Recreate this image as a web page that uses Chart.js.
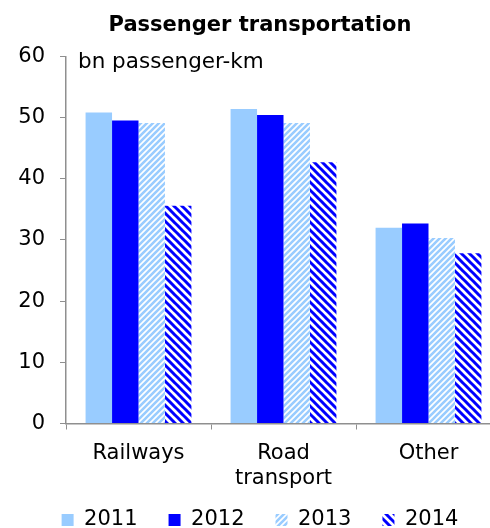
<!DOCTYPE html>
<html>
<head>
<meta charset="utf-8">
<script src="https://cdn.jsdelivr.net/npm/chart.js@4/dist/chart.umd.min.js"></script>
<style>
  html, body { margin: 0; padding: 0; overflow: hidden; background: #fff; }
  canvas { display: block; }
</style>
</head>
<body>
<canvas id="chart" width="501" height="528"></canvas>
<script>
const categories = ['Railways', ['Road', 'transport'], 'Other'];
const years = ['2011', '2012', '2013', '2014'];
const values2011 = [50.8, 51.4, 32.0];
const values2012 = [49.5, 50.4, 32.7];
const values2013 = [49.1, 49.1, 30.3];
const values2014 = [35.6, 42.7, 27.8];
const yTicks = [0, 10, 20, 30, 40, 50, 60];

const FONT = '"DejaVu Sans", Verdana, sans-serif';
const AXIS_GREY = '#8f8f8f';

// diagonal hatch fill; rising = '/' direction
function stripes(color, size, width, rising) {
    const c = document.createElement('canvas');
    c.width = c.height = size;
    const g = c.getContext('2d');
    g.fillStyle = '#ffffff';
    g.fillRect(0, 0, size, size);
    g.strokeStyle = color;
    g.lineWidth = width;
    g.beginPath();
    for (let k = -1; k <= 1; k++) {
        if (rising) {
            g.moveTo(k * size - 1, size + 1);
            g.lineTo(k * size + size + 1, -1);
        } else {
            g.moveTo(k * size - 1, -1);
            g.lineTo(k * size + size + 1, size + 1);
        }
    }
    g.stroke();
    return g.createPattern(c, 'repeat');
}

const fills = [
    '#99ccff',
    '#0000ff',
    stripes('#99ccff', 6, 2.6, true),
    stripes('#0000ff', 8, 3, false)
];

const series = [values2011, values2012, values2013, values2014];

// unit note in the top-left corner of the plot
const unitLabel = {
    id: 'unitLabel',
    afterDraw(chart) {
        const ctx = chart.ctx;
        ctx.save();
        ctx.font = '21.5px ' + FONT;
        ctx.fillStyle = '#000';
        ctx.textAlign = 'left';
        ctx.textBaseline = 'alphabetic';
        ctx.fillText('bn passenger-km', 78, 68);
        ctx.restore();
    }
};

// wide item spacing, but keep the legend a thin strip at the bottom
// (the x axis needs the room for the two-line label)
const legendHeight = {
    id: 'legendHeight',
    afterInit(chart) {
        const legend = chart.legend;
        const fit = legend.fit;
        legend.fit = function () {
            fit.call(this);
            this.height = 34.5;
        };
    },
    afterLayout(chart) {
        chart.legend.top -= 15;
    }
};

new Chart(document.getElementById('chart'), {
    type: 'bar',
    data: {
        labels: categories,
        datasets: series.map((data, i) => ({
            label: years[i],
            data: data,
            backgroundColor: fills[i],
            borderWidth: 0,
            categoryPercentage: 0.73,
            barPercentage: 1.0
        }))
    },
    options: {
        responsive: false,
        animation: false,
        layout: { padding: { left: 19, right: 0, top: 0, bottom: 0 } },
        plugins: {
            title: {
                display: true,
                text: 'Passenger transportation',
                color: '#000',
                font: { family: FONT, size: 21, weight: 'bold', lineHeight: 1.2 },
                padding: { top: 12.8, bottom: 18.3 }
            },
            legend: {
                position: 'bottom',
                labels: {
                    color: '#000',
                    font: { family: FONT, size: 21 },
                    boxWidth: 12,
                    boxHeight: 12,
                    padding: 31
                }
            },
            tooltip: { enabled: false }
        },
        scales: {
            x: {
                grid: {
                    display: true,
                    offset: true,
                    drawOnChartArea: false,
                    drawTicks: true,
                    tickLength: 6,
                    color: AXIS_GREY
                },
                border: { display: true, color: AXIS_GREY, width: 1.5 },
                ticks: {
                    color: '#000',
                    font: { family: FONT, size: 21, lineHeight: 1.2 },
                    padding: 11,
                    maxRotation: 0,
                    autoSkip: false
                },
                afterFit(scale) { scale.height = 70; }
            },
            y: {
                min: 0,
                max: 60,
                afterBuildTicks(scale) { scale.ticks = yTicks.map(v => ({ value: v })); },
                grid: {
                    display: true,
                    drawOnChartArea: false,
                    drawTicks: true,
                    tickLength: 6,
                    color: AXIS_GREY
                },
                border: { display: true, color: AXIS_GREY, width: 1.5 },
                ticks: {
                    color: '#000',
                    font: { family: FONT, size: 21 },
                    padding: 15
                },
                afterFit(scale) { scale.width = 47; }
            }
        }
    },
    plugins: [unitLabel, legendHeight]
});
</script>
</body>
</html>
